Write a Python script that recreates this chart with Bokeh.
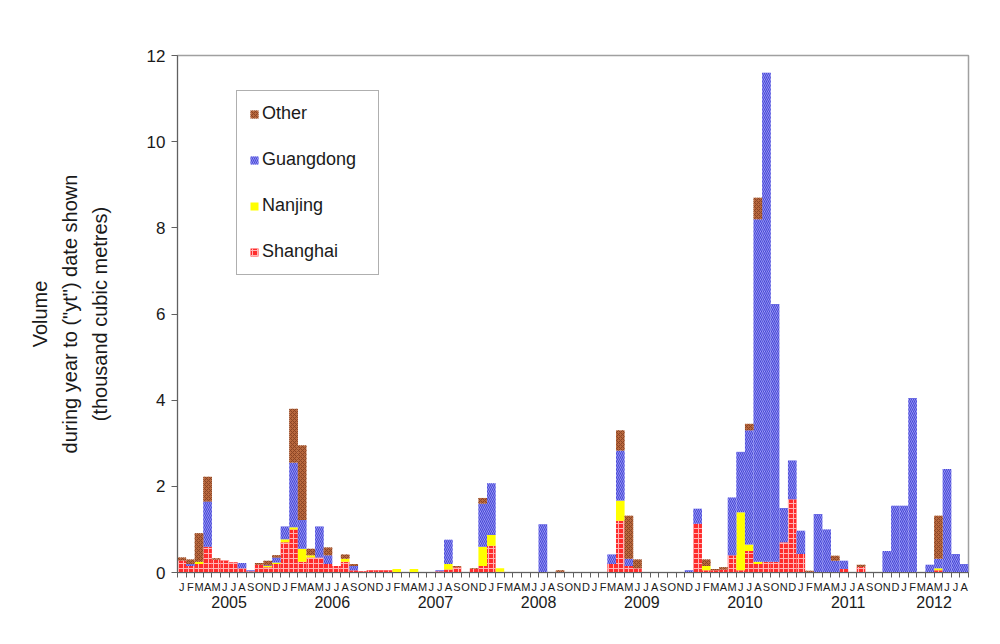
from bokeh.plotting import figure
from bokeh.models import (Range1d, FixedTicker, LinearAxis, CustomJSTickFormatter,
                          Legend, LegendItem, ColumnDataSource, AllLabels)
from bokeh.transform import stack
from bokeh.embed import file_html
from bokeh.resources import INLINE

years = ["2005", "2006", "2007", "2008", "2009", "2010", "2011", "2012"]
month_letters = ["J", "F", "M", "A", "M", "J", "J", "A", "S", "O", "N", "D"]

# monthly values, Jan 2005 .. Aug 2012 (thousand cubic metres)
shanghai = [
    0.28, 0.15, 0.20, 0.60, 0.30, 0.28, 0.24, 0.10, 0.03, 0.18, 0.12, 0.20,
    0.70, 1.00, 0.25, 0.35, 0.35, 0.20, 0.15, 0.25, 0.05, 0.03, 0.05, 0.05,
    0.05, 0, 0, 0, 0, 0, 0.03, 0.07, 0.12, 0, 0.08, 0.15,
    0.62, 0.02, 0, 0, 0, 0, 0, 0, 0.02, 0, 0, 0,
    0, 0, 0.20, 1.20, 0.15, 0.10, 0, 0, 0, 0, 0, 0,
    1.13, 0.05, 0.05, 0.07, 0.40, 0.05, 0.50, 0.20, 0.25, 0.25, 0.70, 1.70,
    0.43, 0.02, 0, 0, 0, 0.08, 0, 0.13, 0, 0, 0, 0,
    0, 0, 0, 0, 0.05, 0, 0, 0,
]
nanjing = [
    0, 0, 0.05, 0, 0, 0, 0, 0, 0, 0, 0.03, 0.03,
    0.07, 0.05, 0.30, 0.05, 0, 0, 0, 0.07, 0, 0, 0, 0,
    0, 0.08, 0, 0.08, 0, 0, 0, 0.13, 0, 0, 0, 0.45,
    0.25, 0.08, 0, 0, 0, 0, 0, 0, 0, 0, 0, 0,
    0, 0, 0, 0.47, 0, 0, 0, 0, 0, 0, 0, 0,
    0, 0.10, 0, 0, 0, 1.35, 0.15, 0.05, 0, 0, 0, 0,
    0, 0, 0, 0, 0, 0, 0, 0, 0, 0, 0, 0,
    0, 0, 0, 0, 0.05, 0, 0, 0,
]
guangdong = [
    0, 0.05, 0, 1.05, 0, 0, 0, 0.12, 0.02, 0, 0.02, 0.12,
    0.30, 1.50, 0.67, 0, 0.72, 0.20, 0, 0, 0.10, 0, 0, 0,
    0, 0, 0, 0, 0, 0, 0.02, 0.56, 0, 0, 0, 1.00,
    1.20, 0, 0, 0, 0, 0, 1.12, 0, 0, 0, 0, 0,
    0, 0, 0.22, 1.16, 0.17, 0, 0, 0, 0, 0, 0, 0.05,
    0.35, 0, 0, 0, 1.34, 1.40, 2.65, 7.95, 11.35, 5.98, 0.80, 0.90,
    0.54, 0, 1.36, 1.00, 0.27, 0.19, 0, 0, 0, 0, 0.50, 1.55,
    1.55, 4.05, 0, 0.18, 0.22, 2.40, 0.43, 0.20,
]
other = [
    0.07, 0.10, 0.66, 0.57, 0.03, 0, 0, 0, 0, 0.04, 0.10, 0.05,
    0, 1.25, 1.73, 0.15, 0, 0.18, 0, 0.10, 0.05, 0, 0, 0,
    0, 0, 0, 0, 0, 0, 0, 0, 0.03, 0, 0.02, 0.13,
    0, 0, 0, 0, 0, 0, 0, 0, 0.03, 0, 0, 0,
    0, 0, 0, 0.47, 1.00, 0.20, 0, 0, 0, 0, 0, 0,
    0, 0.15, 0.03, 0.05, 0, 0, 0.15, 0.50, 0, 0, 0, 0,
    0, 0.02, 0, 0, 0.12, 0, 0, 0.05, 0, 0, 0, 0,
    0, 0, 0, 0, 1.00, 0, 0, 0,
]

n = len(shanghai)
source = ColumnDataSource(dict(
    x=[i + 0.5 for i in range(n)],
    Shanghai=shanghai, Nanjing=nanjing, Guangdong=guangdong, Other=other,
))

FONT = "Liberation Sans"

p = figure(width=982, height=626, output_backend="svg", toolbar_location=None,
           x_range=Range1d(0, n), y_range=Range1d(0, 12),
           min_border_left=177, min_border_right=14, min_border_top=55,
           min_border_bottom=54, x_axis_type=None)
p.xgrid.visible = False
p.ygrid.visible = False
p.outline_line_color = "#a0a0a0"
p.outline_line_width = 1.5
p.background_fill_color = "white"
p.border_fill_color = "white"

order = ["Shanghai", "Nanjing", "Guangdong", "Other"]
styles = {
    "Shanghai": dict(fill_color="#ff2c2c", hatch_pattern="cross", hatch_color="#ffb4b4",
                     hatch_scale=5, hatch_weight=1),
    "Nanjing": dict(fill_color="#ffff00"),
    "Guangdong": dict(fill_color="#acacff", hatch_pattern="left_diagonal_line",
                      hatch_color="#4848d4", hatch_scale=4, hatch_weight=1.2),
    "Other": dict(fill_color="#b8683e", hatch_pattern="diagonal_cross",
                  hatch_color="#8a4424", hatch_scale=4, hatch_weight=1),
}
rends = {}
for i, name in enumerate(order):
    prev = order[:i]
    bottom = stack(*prev) if prev else 0
    rends[name] = p.vbar(x="x", width=1.0, bottom=bottom, top=stack(*order[:i + 1]),
                         source=source, line_color=None, **styles[name])

# y axis
yax = p.yaxis[0]
yax.ticker = FixedTicker(ticks=[0, 2, 4, 6, 8, 10, 12])
yax.minor_tick_line_color = None
yax.major_tick_in = 0
yax.major_tick_out = 6
yax.axis_line_color = "#606060"
yax.major_tick_line_color = "#606060"
yax.major_label_text_font = FONT
yax.major_label_text_font_size = "17px"
yax.major_label_text_color = "#1a1a1a"
yax.major_label_standoff = 6
yax.axis_label = "Volume\nduring year to (\"yt\") date shown\n(thousand cubic metres)"
yax.axis_label_text_font = FONT
yax.axis_label_text_font_size = "20px"
yax.axis_label_text_font_style = "normal"
yax.axis_label_text_color = "#1a1a1a"
yax.axis_label_text_line_height = 1.35
yax.axis_label_standoff = 33

# month axis
centers = [i + 0.5 for i in range(n)]
bounds = [float(i) for i in range(n + 1)]
xax = LinearAxis(
    ticker=FixedTicker(ticks=centers, minor_ticks=bounds),
    formatter=CustomJSTickFormatter(args=dict(labels=month_letters),
                                    code="return labels[Math.floor(tick) % 12];"),
    major_label_policy=AllLabels(),
)
xax.major_tick_in = 0
xax.major_tick_out = 0
xax.minor_tick_in = 0
xax.minor_tick_out = 5
xax.minor_tick_line_color = "#606060"
xax.axis_line_color = "#606060"
xax.major_label_text_font = FONT
xax.major_label_text_font_size = "11px"
xax.major_label_text_color = "#1a1a1a"
xax.major_label_standoff = 3
p.add_layout(xax, "below")

# year axis
year_centers = [12 * k + 6 if 12 * k + 12 <= n else 12 * k + (n - 12 * k) / 2
                for k in range(len(years))]
yrax = LinearAxis(
    ticker=FixedTicker(ticks=year_centers),
    formatter=CustomJSTickFormatter(args=dict(labels=years),
                                    code="return labels[Math.floor(tick / 12)];"),
    major_label_policy=AllLabels(),
)
yrax.axis_line_color = None
yrax.major_tick_line_color = None
yrax.minor_tick_line_color = None
yrax.major_tick_in = 0
yrax.major_tick_out = 0
yrax.major_label_text_font = FONT
yrax.major_label_text_font_size = "16px"
yrax.major_label_text_color = "#1a1a1a"
yrax.major_label_standoff = 0
p.add_layout(yrax, "below")

legend = Legend(items=[LegendItem(label=nm, renderers=[rends[nm]])
                       for nm in ["Other", "Guangdong", "Nanjing", "Shanghai"]],
                location=(59, 297))
legend.label_text_font = FONT
legend.label_text_font_size = "18px"
legend.label_text_color = "#1a1a1a"
legend.glyph_width = 10
legend.glyph_height = 10
legend.label_height = 20
legend.label_standoff = 3
legend.spacing = 25
legend.padding = 12
legend.label_width = 104
legend.border_line_color = "#606060"
legend.border_line_width = 1
legend.background_fill_alpha = 1
p.add_layout(legend)

open("out.html", "w").write(file_html(p, INLINE))
